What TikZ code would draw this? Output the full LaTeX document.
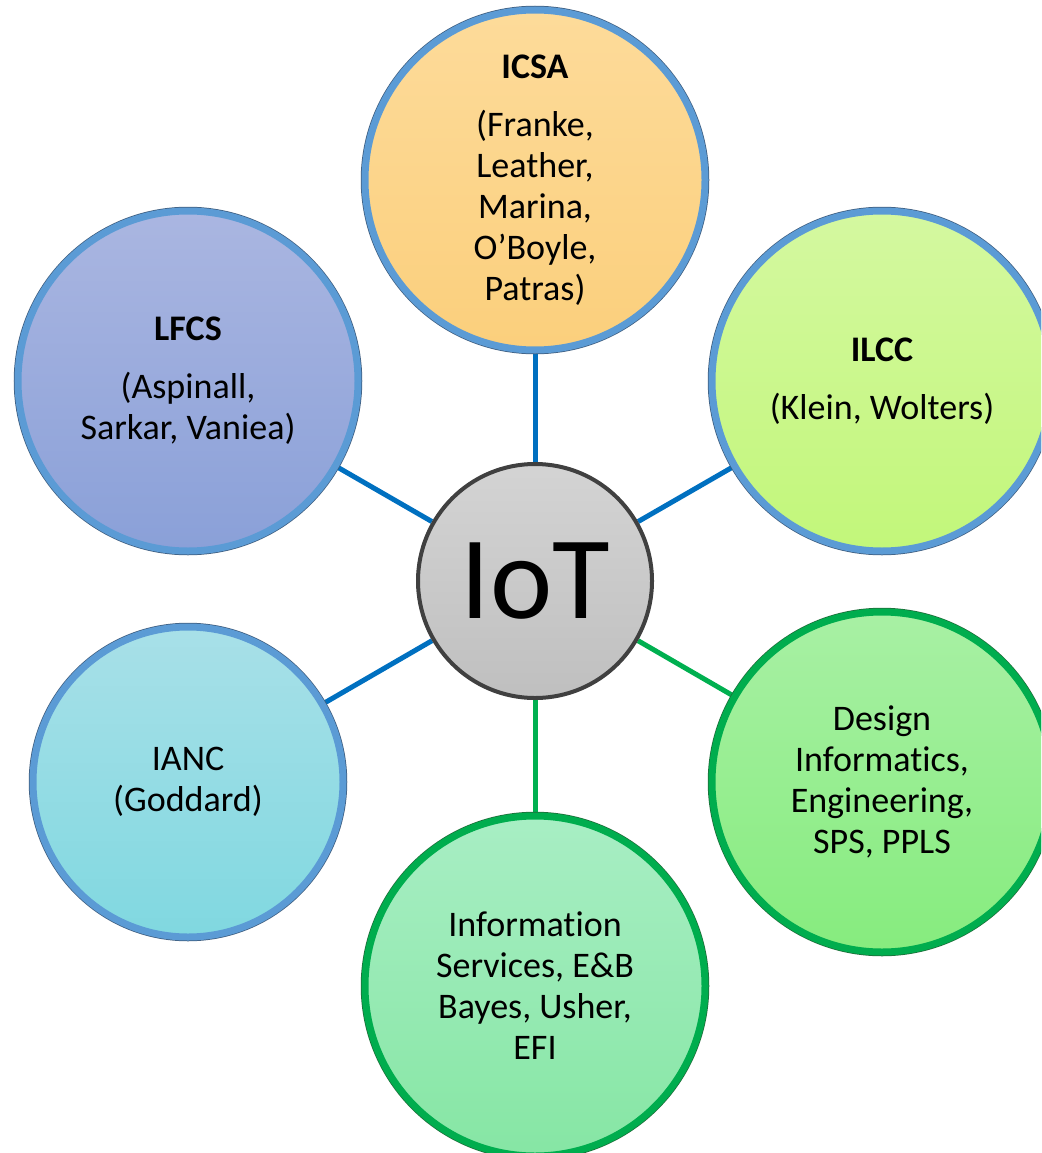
\documentclass[tikz,border=0pt]{standalone}
\usepackage{fontspec}
\setmainfont[Ligatures=NoCommon]{Carlito}
\usetikzlibrary{backgrounds}
\definecolor{bborder}{HTML}{5B9BD5}
\definecolor{gborder}{HTML}{00AD4E}
\definecolor{edgedark}{HTML}{3E5E80}
\definecolor{gedgedark}{HTML}{1E6E3A}
\definecolor{linkblue}{HTML}{0070C0}
\definecolor{linkgreen}{HTML}{00B050}
\begin{document}
\begin{tikzpicture}[x=1pt,y=-1pt,
  bubble/.style={circle, inner sep=0pt, align=center, font=\fontsize{36}{41}\selectfont, line width=7pt, minimum size=340pt},
  bluebub/.style={bubble, draw=bborder, preaction={draw=edgedark, line width=8.5pt}},
  greenbub/.style={bubble, draw=gborder, preaction={draw=gedgedark, line width=8.5pt}},
  hub/.style={circle, inner sep=0pt, minimum size=234pt, draw=black!75, line width=4pt, top color=black!17, bottom color=black!25, font=\fontsize{118}{120}\selectfont},
  bluelink/.style={draw=linkblue, line width=5pt},
  greenlink/.style={draw=linkgreen, line width=5pt}]
\path[use as bounding box, clip] (0,0) rectangle (1041,1153);
\node[hub] (iot) at (535,581) {IoT};
\node[bluebub, top color={rgb,255:red,253;green,219;blue,154}, bottom color={rgb,255:red,251;green,207;blue,124}] (icsa) at (535,180)
  {\textbf{ICSA}\\[17pt](Franke,\\Leather,\\Marina,\\O’Boyle,\\Patras)};
\node[bluebub, top color={rgb,255:red,170;green,182;blue,225}, bottom color={rgb,255:red,138;green,160;blue,216}] (lfcs) at (188,381)
  {\textbf{LFCS}\\[17pt](Aspinall,\\Sarkar, Vaniea)};
\node[bluebub, top color={rgb,255:red,212;green,248;blue,160}, bottom color={rgb,255:red,194;green,247;blue,122}] (ilcc) at (882,381)
  {\textbf{ILCC}\\[17pt](Klein, Wolters)};
\node[bluebub, minimum size=310pt, top color={rgb,255:red,168;green,224;blue,232}, bottom color={rgb,255:red,128;green,216;blue,224}] (ianc) at (188,782)
  {IANC\\(Goddard)};
\node[greenbub, top color={rgb,255:red,168;green,240;blue,164}, bottom color={rgb,255:red,134;green,236;blue,126}] (design) at (882,782)
  {Design\\Informatics,\\Engineering,\\SPS, PPLS};
\node[greenbub, top color={rgb,255:red,168;green,238;blue,196}, bottom color={rgb,255:red,134;green,230;blue,164}] (info) at (535,986)
  {Information\\Services, E\&B\\Bayes, Usher,\\EFI};
\begin{scope}[on background layer]
  \draw[bluelink] (iot) -- (icsa);
  \draw[bluelink] (iot) -- (lfcs);
  \draw[bluelink] (iot) -- (ilcc);
  \draw[bluelink] (iot) -- (ianc);
  \draw[greenlink] (iot) -- (design);
  \draw[greenlink] (iot) -- (info);
\end{scope}
\end{tikzpicture}
\end{document}
